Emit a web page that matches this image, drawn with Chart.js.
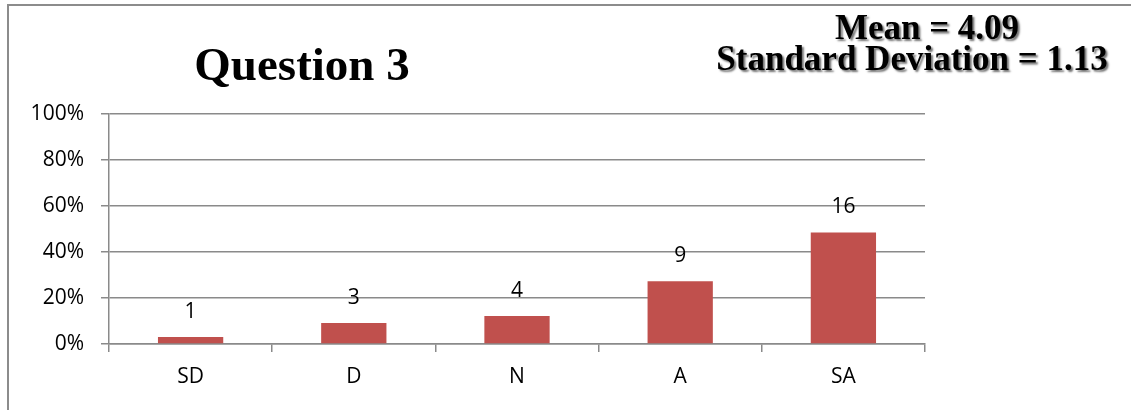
<!DOCTYPE html>
<html>
<head>
<meta charset="utf-8">
<title>Question 3</title>
<script src="https://cdn.jsdelivr.net/npm/chart.js@4.4.1/dist/chart.umd.min.js"></script>
<style>
  html, body { margin: 0; padding: 0; background: #fff; }
  #wrap { position: relative; width: 1131px; height: 410px; }
</style>
</head>
<body>
<div id="wrap"><canvas id="q3Chart" width="1131" height="410"></canvas></div>
<script>
// responses per answer option
const categories = ['SD', 'D', 'N', 'A', 'SA'];
const counts = [1, 3, 4, 9, 16];
const yTicks = [0, 20, 40, 60, 80, 100];
const chartTitle = 'Question 3';
const statLines = ['Mean = 4.09', 'Standard Deviation = 1.13'];

const total = counts.reduce(function(a, b) { return a + b; }, 0);
const shares = counts.map(function(c) { return c / total * 100; });

const tickFont = { family: '"Open Sans", Lato, sans-serif', size: 21 };
const gridGray = '#8a8a8a';

// frame, title and the mean / sd box
const decorPlugin = {
    id: 'decor',
    beforeDraw: function(chart) {
        const ctx = chart.ctx;
        ctx.save();
        ctx.fillStyle = '#fff';
        ctx.fillRect(0, 0, chart.width, chart.height);
        ctx.strokeStyle = '#8c8c8c';
        ctx.lineWidth = 2;
        ctx.beginPath();
        ctx.moveTo(8, chart.height);
        ctx.lineTo(8, 5);
        ctx.lineTo(chart.width, 5);
        ctx.stroke();
        ctx.restore();
    },
    afterDraw: function(chart) {
        const ctx = chart.ctx;
        ctx.save();
        ctx.fillStyle = '#000';
        ctx.textAlign = 'center';
        ctx.textBaseline = 'alphabetic';
        ctx.font = 'bold 47px "Liberation Serif", "Times New Roman", serif';
        ctx.fillText(chartTitle, 302, 80);

        ctx.font = 'bold 35px "Liberation Serif", "Times New Roman", serif';
        ctx.shadowColor = 'rgba(0, 0, 0, 0.55)';
        ctx.shadowOffsetX = 2;
        ctx.shadowOffsetY = 2;
        ctx.shadowBlur = 2;
        ctx.fillText(statLines[0], 927, 39);
        ctx.fillText(statLines[1], 912, 70);
        ctx.restore();
    }
};

// count above each bar
const countLabels = {
    id: 'countLabels',
    afterDatasetsDraw: function(chart) {
        const ctx = chart.ctx;
        const meta = chart.getDatasetMeta(0);
        ctx.save();
        ctx.fillStyle = '#000';
        ctx.font = tickFont.size + 'px ' + tickFont.family;
        ctx.textAlign = 'center';
        ctx.textBaseline = 'alphabetic';
        meta.data.forEach(function(bar, i) {
            ctx.fillText(String(counts[i]), bar.x, bar.y - 19);
        });
        ctx.restore();
    }
};

new Chart(document.getElementById('q3Chart'), {
    type: 'bar',
    data: {
        labels: categories,
        datasets: [{
            data: shares,
            backgroundColor: '#c0504d',
            borderWidth: 0,
            barPercentage: 0.4,
            categoryPercentage: 1
        }]
    },
    options: {
        responsive: false,
        animation: false,
        layout: { padding: { left: 0, right: 206, top: 114, bottom: 0 } },
        plugins: {
            legend: { display: false },
            title: { display: false },
            tooltip: { enabled: false }
        },
        scales: {
            x: {
                grid: {
                    drawOnChartArea: false,
                    drawTicks: true,
                    tickLength: 8,
                    color: gridGray,
                    lineWidth: 1.5,
                    offset: true
                },
                border: { color: gridGray, width: 1.5 },
                ticks: { color: '#000', font: tickFont, padding: 12 },
                afterFit: function(scale) { scale.height = 66; }
            },
            y: {
                min: 0,
                max: 100,
                afterBuildTicks: function(scale) {
                    scale.ticks = yTicks.map(function(v) { return { value: v }; });
                },
                grid: {
                    color: gridGray,
                    lineWidth: 1.5,
                    tickLength: 8
                },
                border: { color: gridGray, width: 1.5 },
                ticks: {
                    color: '#000',
                    font: tickFont,
                    padding: 17,
                    callback: function(v) { return v + '%'; }
                },
                afterFit: function(scale) { scale.width = 109; }
            }
        }
    },
    plugins: [decorPlugin, countLabels]
});
</script>
</body>
</html>
